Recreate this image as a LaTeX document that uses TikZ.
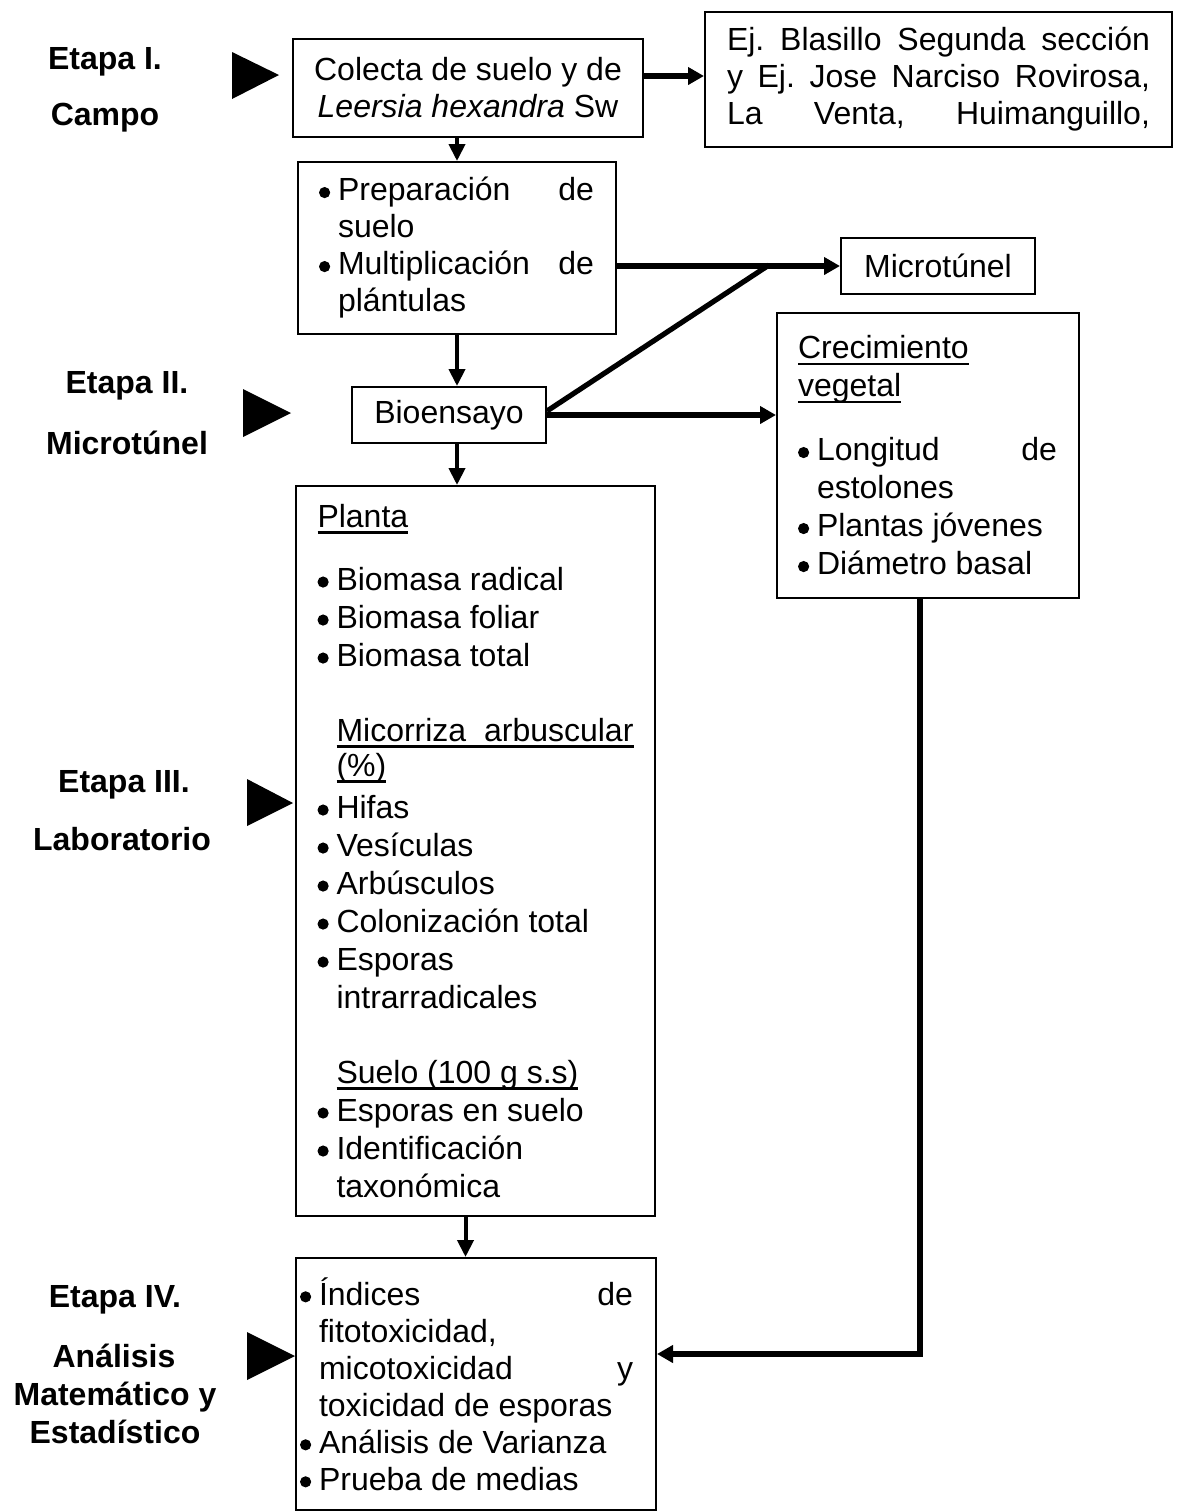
\documentclass[tikz,border=0pt]{standalone}
\usepackage{fontspec}
\setmainfont{Liberation Sans}
\usetikzlibrary{arrows.meta}
\tikzset{
  caja/.style={draw=black,line width=1pt,inner ysep=0pt,anchor=north west,align=flush left,
    font=\fontsize{16}{18.5}\selectfont\frenchspacing},
  lin/.style={draw=black,line width=2.6pt},
  flecha/.style={lin,-{Triangle[length=8pt,width=8.5pt]}},
  flechav/.style={draw=black,line width=2pt,-{Triangle[length=8.5pt,width=8pt]}},
  etq/.style={anchor=base,inner sep=0pt,font=\fontsize{16}{18.5}\selectfont\bfseries},
}
\newcommand{\vin}{\makebox[9.5pt][l]{\tikz[baseline=0pt,x=1pt,y=1pt]\fill (2.8,4.2) circle[radius=2.8];}}
\newcommand{\sang}{\hspace*{9.5pt}}
\newcommand{\just}[2]{\makebox[#1][s]{\spaceskip=0pt\relax #2}}
\newcommand{\subr}[1]{\leavevmode\setbox0\hbox{#1}\rlap{\rule[-3.2pt]{\wd0}{1.4pt}}\box0}

\begin{document}
\begin{tikzpicture}[x=0.5pt,y=-0.5pt]
\useasboundingbox (0,0) rectangle (1177,1511);

% etapas
\node[etq] (e1) at (105,69) {Etapa I.};
\node[etq] (e1b) at (105,125) {Campo};
\node[etq] (e2) at (127,393) {Etapa II.};
\node[etq] (e2b) at (127,454) {Microtúnel};
\node[etq] (e3) at (124,792) {Etapa III.};
\node[etq] (e3b) at (122,850) {Laboratorio};
\node[etq] (e4) at (115,1307) {Etapa IV.};
\node[etq] (e4b) at (114,1367) {Análisis};
\node[etq] (e4c) at (115,1405) {Matemático y};
\node[etq] (e4d) at (115,1443) {Estadístico};

\fill (232,52) -- (232,99) -- (279,75) -- cycle;
\fill (243,389) -- (243,437) -- (291,413) -- cycle;
\fill (247,779) -- (247,826) -- (293,803) -- cycle;
\fill (247,1332) -- (247,1380) -- (295,1356) -- cycle;

% cajas
\node[caja,align=flush center,inner xsep=0pt,text width=175pt,minimum height=49pt] (colecta) at (292,38)
  {Colecta de suelo y de\\ \textit{Leersia hexandra} Sw};
\node[caja,inner xsep=11pt,text width=211.5pt,minimum height=67.5pt] (sitio) at (704,11)
  {\just{211.5pt}{Ej. Blasillo Segunda sección}\\
   \just{211.5pt}{y Ej. Jose Narciso Rovirosa,}\\
   \just{211.5pt}{La Venta, Huimanguillo,}};
\node[caja,inner xsep=10.5pt,text width=138pt,minimum height=86pt] (prep) at (297,161)
  {\vin\just{128pt}{Preparación de}\\
   \sang suelo\\
   \vin\just{128pt}{Multiplicación de}\\
   \sang plántulas};
\node[caja,align=flush center,inner xsep=0pt,text width=97pt,minimum height=28pt] (micro) at (840,237) {Microtúnel};
\node[caja,align=flush center,inner xsep=0pt,text width=97pt,minimum height=28pt] (bio) at (351,386) {Bioensayo};
\node[caja,inner xsep=10.5pt,text width=130pt,minimum height=142.5pt,
  font=\fontsize{16}{19}\selectfont\frenchspacing] (crec) at (776,312)
  {\subr{Crecimiento}\\
   \subr{vegetal}\\[13pt]
   \vin\just{120pt}{Longitud de}\\
   \sang estolones\\
   \vin Plantas jóvenes\\
   \vin Diámetro basal};
\node[caja,inner xsep=10.75pt,text width=158pt,minimum height=365pt,
  font=\fontsize{16}{19}\selectfont\frenchspacing] (planta) at (295,485)
  {\subr{Planta}\\[12.5pt]
   \vin Biomasa radical\\
   \vin Biomasa foliar\\
   \vin Biomasa total\\[18.5pt]
   \sang\subr{\just{148.5pt}{Micorriza arbuscular}}\\[-1.5pt]
   \sang\subr{(\%)}\\[2pt]
   \vin Hifas\\
   \vin Vesículas\\
   \vin Arbúsculos\\
   \vin Colonización total\\
   \vin Esporas\\
   \sang intrarradicales\\[18.5pt]
   \sang\subr{Suelo (100 g s.s)}\\
   \vin Esporas en suelo\\
   \vin Identificación\\
   \sang taxonómica};
\node[caja,inner xsep=2pt,text width=176pt,minimum height=126pt] (final) at (295,1257)
  {\vin\just{157pt}{Índices de}\\
   \sang fitotoxicidad,\\
   \sang\just{157pt}{micotoxicidad y}\\
   \sang toxicidad de esporas\\
   \vin Análisis de Varianza\\
   \vin Prueba de medias};

% conectores
\coordinate (cruce) at (769,265);
\draw[flecha] ([yshift=6pt]colecta.east) -- ([yshift=6pt]colecta.east -| sitio.west);
\draw[flechav] (colecta.south -| prep.north) -- (prep.north);
\draw[flecha] (prep.east |- micro.west) -- (micro.west);
\draw[lin] ([yshift=2pt]bio.east) -- (cruce);
\draw[flecha] (bio.east) -- (bio.east -| crec.west);
\draw[flechav] (prep.south) -- (prep.south |- bio.north);
\draw[flechav] (prep.south |- bio.south) -- (prep.south |- planta.north);
\draw[flechav] ([xshift=-5pt]planta.south) -- ([xshift=-5pt]planta.south |- final.north);
\draw[flecha] ([xshift=-4pt]crec.south) |- ([yshift=15pt]final.east);
\end{tikzpicture}
\end{document}
